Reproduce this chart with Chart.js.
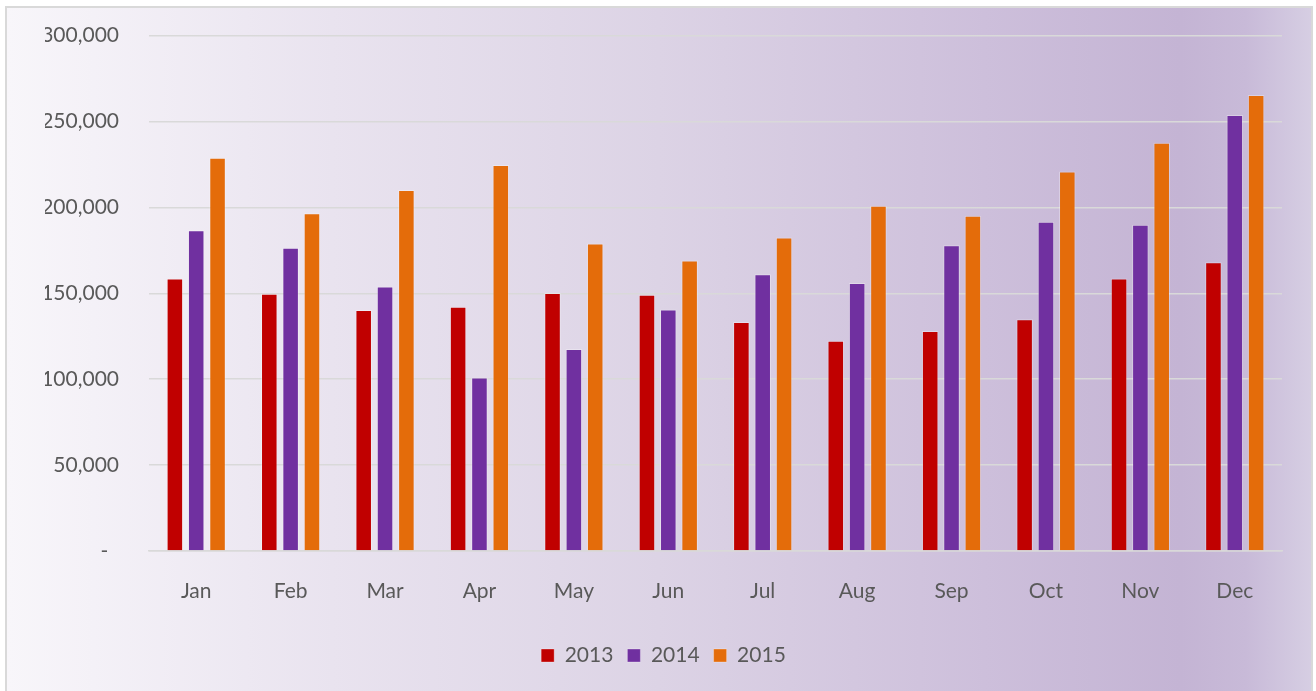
<!DOCTYPE html>
<html>
<head>
<meta charset="utf-8">
<script src="https://cdn.jsdelivr.net/npm/chart.js@4/dist/chart.umd.min.js"></script>
<style>
  html, body { margin: 0; padding: 0; width: 1316px; height: 691px; overflow: hidden; background: #ffffff; }
  #box {
    position: absolute; left: 5px; top: 6px; width: 1304px; height: 700px;
    border: 2px solid #D9D9D9; border-bottom: none;
    background: linear-gradient(to right, #F8F6FA 0%, #E9E3EF 25%, #DCD3E5 50%, #CDBFDB 75%, #C4B4D4 90%, #C8BAD8 95%, #D6CEE3 100%);
  }
  #wrap { position: absolute; left: 0; top: 0; width: 1316px; height: 691px; }
</style>
</head>
<body>
<div id="box"></div>
<div id="wrap"><canvas id="c" width="1316" height="691"></canvas></div>
<script>
const categories = ["Jan","Feb","Mar","Apr","May","Jun","Jul","Aug","Sep","Oct","Nov","Dec"];
const seriesNames = ["2013","2014","2015"];
const values2013 = [158600,149700,140200,142100,150100,149100,133200,122300,128100,134800,158600,168000];
const values2014 = [186600,176500,154000,101000,117500,140600,161000,155900,177900,191600,189900,253700];
const values2015 = [228900,196500,210100,224600,179000,169100,182500,200900,195100,220900,237600,265400];
const yTicks = [0,50000,100000,150000,200000,250000,300000];
const colors = ["#C00000","#7030A0","#E46C0A"];

const FONT = "Lato";
const TEXT = "#595959";

const ctx = document.getElementById("c").getContext("2d");
new Chart(ctx, {
  type: "bar",
  data: {
    labels: categories,
    datasets: [values2013, values2014, values2015].map((d, i) => ({
      label: seriesNames[i],
      data: d,
      backgroundColor: colors[i],
      borderColor: "rgba(255,255,255,0.3)",
      borderWidth: 1,
      categoryPercentage: 0.678,
      barPercentage: 0.775
    }))
  },
  options: {
    responsive: false,
    animation: false,
    devicePixelRatio: 1,
    layout: { padding: { left: 45, right: 34, top: 35.5, bottom: 15 } },
    plugins: {
      tooltip: { enabled: false },
      legend: {
        position: "bottom",
        labels: {
          color: TEXT,
          font: { family: FONT, size: 21 },
          boxWidth: 13,
          boxHeight: 13,
          padding: 14
        }
      }
    },
    scales: {
      x: {
        grid: { display: false, drawTicks: false },
        border: { display: true, color: "#D9D9D9", width: 1.5 },
        ticks: { color: TEXT, font: { family: FONT, size: 21 }, padding: 28, maxRotation: 0 },
        afterFit: (s) => { s.height = 80; }
      },
      y: {
        min: 0, max: 300000,
        afterBuildTicks: (s) => { s.ticks = yTicks.map(v => ({ value: v })); },
        grid: { color: "#D9D9D9", lineWidth: 1.4, drawTicks: true, tickLength: 27, tickColor: "rgba(0,0,0,0)" },
        border: { display: false },
        ticks: {
          color: TEXT, font: { family: FONT, size: 21 }, padding: 3,
          callback: (v) => v === 0 ? "-  " : Number(v).toLocaleString("en-US")
        },
        afterFit: (s) => { s.width = 104; }
      }
    }
  }
});
</script>
</body>
</html>
